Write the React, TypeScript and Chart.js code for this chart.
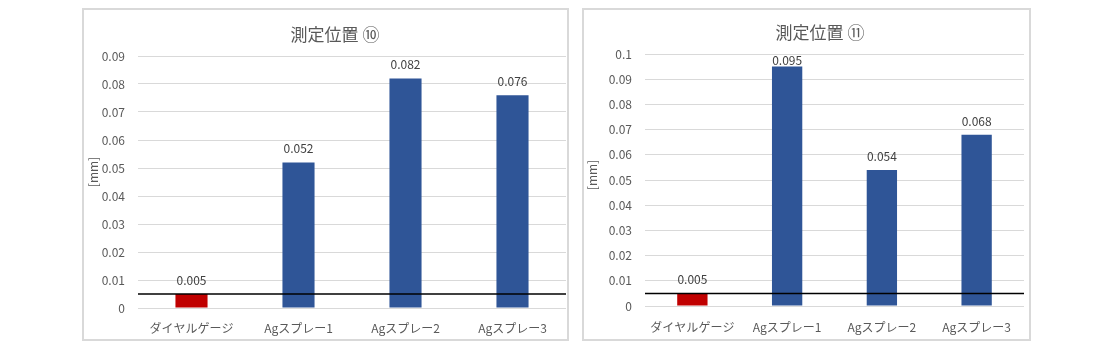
import React, { useEffect, useRef } from "react";
import { Chart, registerables } from "chart.js";

Chart.register(...registerables);

// ---- data ----
const categories = ["ダイヤルゲージ", "Agスプレー1", "Agスプレー2", "Agスプレー3"];
const valuesPos10 = [0.005, 0.052, 0.082, 0.076];
const valuesPos11 = [0.005, 0.095, 0.054, 0.068];
const barColors = ["#C00000", "#2F5597", "#2F5597", "#2F5597"];
const yMaxPos10 = 0.09;
const yMaxPos11 = 0.1;
const yStep = 0.01;
const thresholdValue = 0.005;
const titlePos10 = "測定位置 ⑩";
const titlePos11 = "測定位置 ⑪";
const axisTitleText = "[mm]";

const FONT = "'Noto Sans CJK JP', 'Noto Sans', sans-serif";

type BoxCfg = {
  left: number;
  top: number;
  width: number;
  height: number;
  yAxisWidth: number;
  plotTop: number;
  xAxisHeight: number;
  padRight: number;
  titleX: number;
  titleY: number;
  axisTitleX: number;
  axisTitleY: number;
  barPct: number;
  xTickPad: number;
};

function ChartBox(props: {
  title: string;
  values: number[];
  yMax: number;
  cfg: BoxCfg;
}) {
  const ref = useRef<HTMLCanvasElement | null>(null);
  const { cfg } = props;
  const innerW = cfg.width - 4;
  const innerH = cfg.height - 4;

  useEffect(() => {
    if (!ref.current) return;
    const overlay = {
      id: "overlay",
      afterDatasetsDraw(chart: any) {
        const ctx = chart.ctx;
        const area = chart.chartArea;
        const yScale = chart.scales.y;
        // threshold line
        const ty = yScale.getPixelForValue(thresholdValue);
        ctx.save();
        ctx.strokeStyle = "#000000";
        ctx.lineWidth = 1.5;
        ctx.beginPath();
        ctx.moveTo(area.left, ty);
        ctx.lineTo(area.right, ty);
        ctx.stroke();
        // data labels
        const meta = chart.getDatasetMeta(0);
        ctx.font = `12px ${FONT}`;
        ctx.fillStyle = "#404040";
        ctx.textAlign = "center";
        ctx.textBaseline = "alphabetic";
        meta.data.forEach((bar: any, i: number) => {
          const v = props.values[i];
          let by = bar.y - 9;
          if (by < area.top + 11) by = area.top + 11;
          ctx.fillText(v.toFixed(3), bar.x, by);
        });
        ctx.restore();
      },
      afterDraw(chart: any) {
        const ctx = chart.ctx;
        ctx.save();
        ctx.fillStyle = "#595959";
        ctx.textAlign = "center";
        ctx.textBaseline = "middle";
        ctx.font = `17px ${FONT}`;
        ctx.fillText(props.title, cfg.titleX, cfg.titleY);
        ctx.translate(cfg.axisTitleX, cfg.axisTitleY);
        ctx.rotate(-Math.PI / 2);
        ctx.font = `12px ${FONT}`;
        ctx.fillText(axisTitleText, 0, 0);
        ctx.restore();
      },
    };

    const chart = new Chart(ref.current, {
      type: "bar",
      data: {
        labels: categories,
        datasets: [
          {
            data: props.values,
            backgroundColor: barColors,
            borderWidth: 0,
            barPercentage: cfg.barPct,
            categoryPercentage: 1,
          },
        ],
      },
      options: {
        responsive: false,
        animation: false,
        devicePixelRatio: 1,
        layout: {
          padding: { left: 0, top: cfg.plotTop, right: cfg.padRight, bottom: 0 },
        },
        plugins: {
          legend: { display: false },
          title: { display: false },
          tooltip: { enabled: false },
        },
        scales: {
          x: {
            grid: { display: false, drawTicks: false },
            border: { display: false },
            ticks: {
              color: "#595959",
              font: { family: FONT, size: 12 },
              padding: cfg.xTickPad,
              maxRotation: 0,
              autoSkip: false,
            },
            afterFit(scale: any) {
              scale.height = cfg.xAxisHeight;
            },
          },
          y: {
            min: 0,
            max: props.yMax,
            grid: { color: "#d9d9d9", lineWidth: 1, drawTicks: false },
            border: { display: false },
            ticks: {
              stepSize: yStep,
              color: "#595959",
              font: { family: FONT, size: 12 },
              padding: 13,
              callback: (v: any) => String(Number(Number(v).toFixed(3))),
            },
            afterFit(scale: any) {
              scale.width = cfg.yAxisWidth;
            },
          },
        },
      },
      plugins: [overlay],
    });
    return () => chart.destroy();
  }, []);

  return (
    <div
      style={{
        position: "absolute",
        left: cfg.left,
        top: cfg.top,
        width: cfg.width,
        height: cfg.height,
        border: "2px solid #d9d9d9",
        boxSizing: "border-box",
        background: "#ffffff",
      }}
    >
      <canvas
        ref={ref}
        width={innerW}
        height={innerH}
        style={{ display: "block", width: innerW, height: innerH }}
      />
    </div>
  );
}

const cfg10: BoxCfg = {
  left: 82,
  top: 8,
  width: 487,
  height: 333,
  yAxisWidth: 54,
  plotTop: 46,
  xAxisHeight: 31,
  padRight: 1,
  titleX: 251,
  titleY: 25,
  axisTitleX: 9,
  axisTitleY: 162,
  barPct: 0.3,
  xTickPad: 13,
};

const cfg11: BoxCfg = {
  left: 582,
  top: 8,
  width: 449,
  height: 333,
  yAxisWidth: 61,
  plotTop: 44,
  xAxisHeight: 33,
  padRight: 5,
  titleX: 236,
  titleY: 23,
  axisTitleX: 8,
  axisTitleY: 165,
  barPct: 0.32,
  xTickPad: 14,
};

export default function App() {
  return (
    <div
      style={{
        position: "absolute",
        left: 0,
        top: 0,
        width: 1114,
        height: 356,
        background: "#ffffff",
        overflow: "hidden",
      }}
    >
      <ChartBox title={titlePos10} values={valuesPos10} yMax={yMaxPos10} cfg={cfg10} />
      <ChartBox title={titlePos11} values={valuesPos11} yMax={yMaxPos11} cfg={cfg11} />
    </div>
  );
}
